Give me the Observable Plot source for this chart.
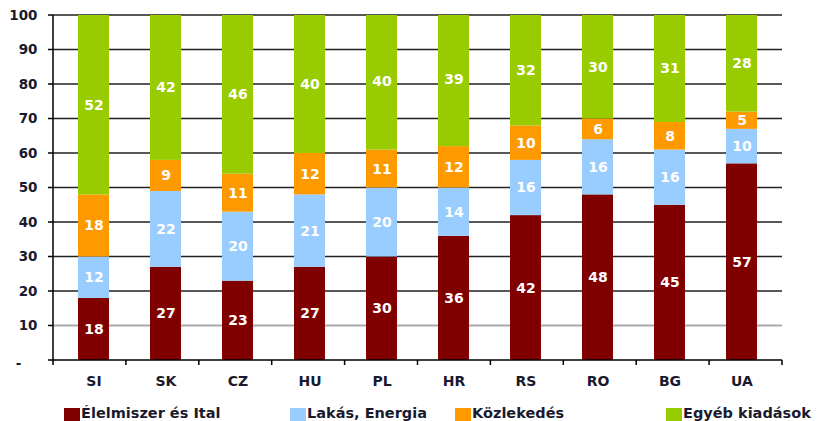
<!DOCTYPE html>
<html><head><meta charset="utf-8">
<script src="https://cdn.jsdelivr.net/npm/d3@7"></script>
<script src="https://cdn.jsdelivr.net/npm/@observablehq/plot@0.6"></script>
<style>
body{margin:0;background:#fff;font-family:"DejaVu Sans",Verdana,sans-serif;}
#wrap{position:relative;width:820px;height:421px;}
#chart{position:absolute;left:0;top:0;}
.leg{position:absolute;top:405px;font-size:14.5px;font-weight:bold;color:#1a1a2e;white-space:nowrap;line-height:17px;}
.sw{position:absolute;top:408px;width:16px;height:13px;}
</style></head>
<body><div id="wrap"><div id="chart"></div></div>
<script>
const countries = ["SI","SK","CZ","HU","PL","HR","RS","RO","BG","UA"];
const seriesNames = ["Élelmiszer és Ital","Lakás, Energia","Közlekedés","Egyéb kiadások"];
const food      = [18,27,23,27,30,36,42,48,45,57];
const housing   = [12,22,20,21,20,14,16,16,16,10];
const transport = [18, 9,11,12,11,12,10, 6, 8, 5];
const other     = [52,42,46,40,40,39,32,30,31,28];
const colors = ["#800000","#99ccff","#ff9900","#99cc00"];
const yTicks = [0,10,20,30,40,50,60,70,80,90,100];
const legendX = [64,290,455,666];

const seriesVals = [food, housing, transport, other];
const data = [];
countries.forEach((c,i)=>seriesNames.forEach((s,j)=>data.push({country:c, series:s, value:seriesVals[j][i]})));

const plot = Plot.plot({
  width: 820, height: 400,
  marginLeft: 53, marginRight: 38, marginTop: 15, marginBottom: 40,
  style: {fontFamily: '"DejaVu Sans",Verdana,sans-serif', fontSize: "13px", color: "#1a1a2e", background: "#fff"},
  x: {domain: countries, paddingInner: 0.57, paddingOuter: 0.285, align: 0.5, axis: null},
  y: {domain: [0,100], axis: null},
  color: {domain: seriesNames, range: colors},
  marks: [
    Plot.rect(yTicks.filter(d=>d>=20), {y1: d=>d, y2: d=>d, insetTop: -0.75, insetBottom: -0.75, fill: "#222"}),
    Plot.rect([10], {y1: d=>d, y2: d=>d, insetTop: -1, insetBottom: -1, fill: "#aaa"}),
    Plot.barY(data, Plot.stackY({x: "country", y: "value", z: "series", fill: "series", clip: true})),
    Plot.text(data, Plot.stackY({x: "country", y: "value", z: "series", text: d=>String(d.value), fill: "#fff", fontWeight: "bold", fontSize: 14})),
    Plot.rect([0], {y1: d=>d, y2: d=>d, insetTop: -0.75, insetBottom: -0.75, fill: "#000"}),
    Plot.text(yTicks.filter(d=>d>0), {y: d=>d, text: d=>String(d), frameAnchor: "left", dx: -16, textAnchor: "end", fontSize: 13.5, fontWeight: "bold"}),
    Plot.text([0], {y: d=>d, text: ()=>"-", frameAnchor: "left", dx: -35, textAnchor: "middle", fontSize: 13.5, fontWeight: "bold", dy: 3}),
    Plot.text(countries, {x: d=>d, text: d=>d, frameAnchor: "bottom", dy: 25, fontWeight: "bold", fontSize: 14})
  ]
});
document.getElementById("chart").appendChild(plot);

// y axis line and tick marks, positioned through the plot's y scale
const svg = d3.select(plot);
const ys = plot.scale("y");
const X0 = 53, X1 = 820 - 38;
const ax = svg.append("g").attr("fill", "#000");
ax.append("rect").attr("x", X0-0.75).attr("width", 1.5).attr("y", ys.apply(100)).attr("height", ys.apply(0)-ys.apply(100)+0.75);
yTicks.forEach(t=>ax.append("rect").attr("x", X0-5).attr("width", 5).attr("y", ys.apply(t)-0.75).attr("height", 1.5));
const step = (X1 - X0)/countries.length;
for(let k=0;k<=countries.length;k++){
  ax.append("rect").attr("x", X0+k*step-0.75).attr("width", 1.5).attr("y", ys.apply(0)).attr("height", 5);
}

const wrap = document.getElementById("wrap");
seriesNames.forEach((s,i)=>{
  const sw = document.createElement("div");
  sw.className = "sw";
  sw.style.left = legendX[i] + "px";
  sw.style.background = colors[i];
  wrap.appendChild(sw);
  const d = document.createElement("div");
  d.className = "leg";
  d.style.left = (legendX[i] + 17) + "px";
  d.textContent = s;
  wrap.appendChild(d);
});
</script></body></html>
